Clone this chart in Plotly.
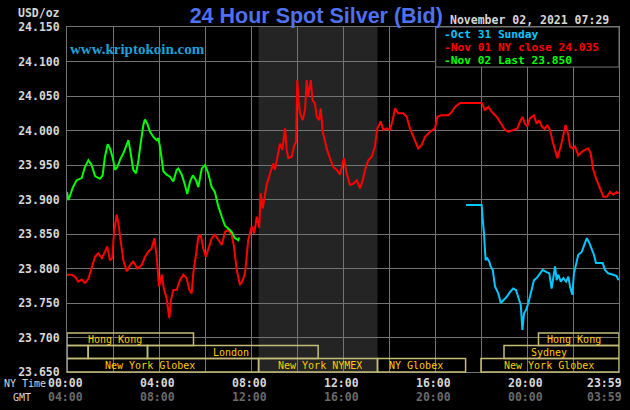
import plotly.graph_objects as go

# ---------------- data (hours after 00:00 NY time, price USD/oz) ----------------
green_hours = [0.00, 0.06, 0.26, 0.42, 0.64, 0.78, 0.93, 1.07, 1.22, 1.43,
               1.55, 1.65, 1.77, 1.87, 1.99, 2.09, 2.19, 2.30, 2.45, 2.60,
               2.67, 2.77, 2.88, 3.00, 3.10, 3.20, 3.32, 3.39, 3.49, 3.61,
               3.75, 3.90, 3.97, 4.04, 4.12, 4.19, 4.33, 4.48, 4.62, 4.77,
               4.84, 4.99, 5.13, 5.23, 5.35, 5.47, 5.61, 5.71, 5.86, 6.00,
               6.14, 6.29, 6.43, 6.58, 6.73, 6.87, 7.01, 7.16, 7.30, 7.45,
               7.48]
green_prices = [23.911, 23.899, 23.918, 23.928, 23.931, 23.947, 23.957, 23.950, 23.934, 23.930,
                23.935, 23.962, 23.980, 23.974, 23.960, 23.943, 23.947, 23.957, 23.967, 23.981,
                23.986, 23.967, 23.943, 23.938, 23.955, 23.981, 24.008, 24.016, 24.010, 23.998,
                23.991, 23.986, 23.989, 23.977, 23.955, 23.941, 23.936, 23.933, 23.926, 23.943,
                23.945, 23.936, 23.921, 23.908, 23.926, 23.935, 23.928, 23.918, 23.945, 23.950,
                23.938, 23.918, 23.911, 23.890, 23.875, 23.862, 23.858, 23.853, 23.844, 23.841,
                23.845]

red_hours = [0.00, 0.20, 0.35, 0.49, 0.64, 0.78, 0.93, 1.07, 1.22, 1.36,
             1.51, 1.65, 1.75, 1.87, 1.97, 2.04, 2.16, 2.23, 2.33, 2.45,
             2.60, 2.74, 2.88, 3.06, 3.25, 3.39, 3.53, 3.68, 3.80, 3.90,
             4.00, 4.12, 4.22, 4.33, 4.45, 4.52, 4.62, 4.77, 4.91, 5.06,
             5.20, 5.32, 5.42, 5.49, 5.61, 5.71, 5.81, 5.93, 6.04, 6.14,
             6.29, 6.43, 6.58, 6.73, 6.87, 7.01, 7.16, 7.26, 7.38, 7.52,
             7.64, 7.74, 7.88, 8.03, 8.14, 8.25, 8.36, 8.42, 8.51, 8.68,
             8.83, 8.97, 9.04, 9.14, 9.26, 9.36, 9.48, 9.55, 9.62, 9.77,
             9.87, 9.96, 10.01, 10.06, 10.13, 10.25, 10.35, 10.42, 10.49, 10.60,
             10.68, 10.78, 10.86, 10.96, 11.03, 11.12, 11.22, 11.29, 11.43, 11.58,
             11.73, 11.87, 12.04, 12.16, 12.30, 12.45, 12.60, 12.74, 12.86, 12.96,
             13.10, 13.25, 13.39, 13.49, 13.64, 13.75, 13.90, 14.04, 14.16, 14.26,
             14.40, 14.62, 14.77, 14.91, 15.06, 15.27, 15.42, 15.57, 15.78, 16.00,
             16.10, 16.29, 16.58, 16.73, 16.87, 17.09, 18.03, 18.17, 18.32, 18.47,
             18.68, 18.90, 19.04, 19.19, 19.40, 19.58, 19.70, 19.81, 19.91, 20.01,
             20.13, 20.30, 20.42, 20.53, 20.64, 20.78, 20.88, 21.00, 21.14, 21.32,
             21.47, 21.58, 21.68, 21.80, 21.87, 21.99, 22.09, 22.23, 22.38, 22.52,
             22.67, 22.77, 22.88, 23.03, 23.17, 23.32, 23.47, 23.61, 23.75, 23.90,
             23.98]
red_prices = [23.791, 23.791, 23.788, 23.781, 23.784, 23.779, 23.785, 23.800, 23.817, 23.822,
              23.815, 23.824, 23.832, 23.812, 23.815, 23.851, 23.878, 23.866, 23.841, 23.812,
              23.796, 23.805, 23.810, 23.800, 23.805, 23.817, 23.824, 23.829, 23.844, 23.817,
              23.774, 23.791, 23.769, 23.757, 23.728, 23.754, 23.769, 23.769, 23.783, 23.791,
              23.786, 23.769, 23.764, 23.793, 23.820, 23.846, 23.849, 23.829, 23.817, 23.829,
              23.844, 23.849, 23.841, 23.834, 23.853, 23.856, 23.849, 23.832, 23.798, 23.776,
              23.783, 23.793, 23.841, 23.861, 23.851, 23.875, 23.859, 23.909, 23.887, 23.921,
              23.938, 23.952, 23.943, 23.962, 23.981, 23.972, 24.003, 23.972, 23.960, 23.962,
              23.977, 23.984, 24.073, 24.047, 24.025, 24.015, 24.030, 24.073, 24.049, 24.073,
              24.044, 24.039, 24.020, 24.015, 24.032, 23.998, 23.984, 23.974, 23.960, 23.947,
              23.943, 23.936, 23.960, 23.938, 23.921, 23.923, 23.928, 23.916, 23.928, 23.943,
              23.957, 23.962, 23.977, 24.003, 24.013, 24.001, 24.003, 24.001, 24.015, 24.032,
              24.025, 24.025, 24.020, 24.003, 23.991, 23.974, 23.979, 23.991, 23.998, 24.003,
              24.020, 24.022, 24.022, 24.027, 24.034, 24.040, 24.040, 24.030, 24.034, 24.027,
              24.020, 24.008, 24.001, 23.998, 24.001, 24.003, 24.013, 24.020, 24.010, 24.006,
              24.018, 24.022, 24.010, 24.015, 24.006, 24.002, 24.008, 24.001, 23.981, 23.960,
              23.977, 23.996, 24.008, 23.993, 23.977, 23.974, 23.977, 23.964, 23.969, 23.972,
              23.974, 23.967, 23.943, 23.928, 23.916, 23.904, 23.904, 23.911, 23.907, 23.911,
              23.909]

cyan_hours = [17.35, 18.03, 18.07, 18.13, 18.20, 18.27, 18.36, 18.42, 18.51, 18.61,
              18.75, 18.86, 18.97, 19.12, 19.26, 19.40, 19.52, 19.62, 19.73, 19.80,
              19.87, 19.96, 20.06, 20.20, 20.30, 20.42, 20.57, 20.68, 20.83, 20.97,
              21.07, 21.14, 21.22, 21.29, 21.36, 21.47, 21.58, 21.70, 21.80, 21.87,
              21.97, 22.04, 22.13, 22.23, 22.38, 22.48, 22.60, 22.71, 22.81, 22.91,
              23.00, 23.14, 23.29, 23.39, 23.53, 23.75, 23.90, 23.97]
cyan_prices = [23.892, 23.892, 23.873, 23.851, 23.812, 23.815, 23.810, 23.803, 23.798, 23.774,
               23.764, 23.750, 23.754, 23.759, 23.766, 23.771, 23.769, 23.759, 23.747, 23.711,
               23.735, 23.740, 23.750, 23.769, 23.783, 23.786, 23.793, 23.798, 23.795, 23.793,
               23.771, 23.786, 23.803, 23.783, 23.791, 23.781, 23.786, 23.781, 23.788, 23.774,
               23.762, 23.793, 23.808, 23.820, 23.824, 23.834, 23.844, 23.837, 23.829, 23.820,
               23.808, 23.808, 23.808, 23.798, 23.793, 23.791, 23.789, 23.783]

y_ticks = [23.650, 23.700, 23.750, 23.800, 23.850, 23.900, 23.950, 24.000, 24.050, 24.100, 24.150]
y_labels = ["23.650", "23.700", "23.750", "23.800", "23.850", "23.900",
            "23.950", "24.000", "24.050", "24.100", "24.150"]

time_ticks = [0, 4, 8, 12, 16, 20, 24]
ny_labels = ["00:00", "04:00", "08:00", "12:00", "16:00", "20:00", "23:59"]
gmt_labels = ["04:00", "08:00", "12:00", "16:00", "20:00", "00:00", "03:59"]

legend_labels = ["-Oct 31 Sunday", "-Nov 01 NY close 24.035", "-Nov 02 Last 23.850"]

sess_names = ["Hong Kong", "Hong Kong", "", "", "London", "Sydney",
              "New York Globex", "New York NYMEX", "NY Globex", "New York Globex"]
sess_rows = [0, 0, 1, 1, 1, 1, 2, 2, 2, 2]
sess_start = [0.0, 20.5, 0.0, 0.92, 3.5, 19.0, 0.0, 8.33, 13.5, 18.0]
sess_end = [5.5, 24.0, 0.92, 3.5, 10.92, 24.0, 8.33, 13.5, 17.33, 24.0]
sess_label_at = [2.09, 22.04, None, None, 7.13, 20.96, 3.61, 11.0, 15.17, 20.96]

nymex_open, nymex_close = 8.33, 13.5

# ---------------- style ----------------
CYAN, RED, GREEN = "#00c8ff", "#ff0000", "#00ff00"
GRID = "#747474"
TXT = "#d6d6d6"
GMT_C = "#6a6a6a"
SESS_LINE = "#c4bc78"
SESS_TXT = "#ffcc00"
MONO = "DejaVu Sans Mono"

fig = go.Figure()
for hrs, prs, col in [(cyan_hours, cyan_prices, CYAN),
                      (red_hours, red_prices, RED),
                      (green_hours, green_prices, GREEN)]:
    fig.add_trace(go.Scatter(x=hrs, y=prs, mode="lines",
                             line=dict(color=col, width=2),
                             hoverinfo="skip", showlegend=False))

shapes = []
# NYMEX shaded session
shapes.append(dict(type="rect", xref="x", yref="paper", x0=nymex_open, x1=nymex_close,
                   y0=0, y1=1, fillcolor="#242424", line=dict(width=0), layer="below"))
# session boxes
row_top = [0.113, 0.0768, 0.0391]
row_bot = [0.0768, 0.0391, 0.0]
annotations = []
for name, row, s, e, at in zip(sess_names, sess_rows, sess_start, sess_end, sess_label_at):
    shapes.append(dict(type="rect", xref="x", yref="paper", x0=s, x1=e,
                       y0=row_bot[row], y1=row_top[row],
                       line=dict(color=SESS_LINE, width=1.5), fillcolor="rgba(0,0,0,0)",
                       layer="above"))
    if name:
        annotations.append(dict(x=at, y=(row_top[row] + row_bot[row]) / 2, xref="x", yref="paper",
                                text=name, showarrow=False, xanchor="center", yanchor="middle",
                                height=11,
                                font=dict(family=MONO, size=10, color=SESS_TXT)))
# legend box
shapes.append(dict(type="rect", xref="paper", yref="paper", x0=0.668, x1=1.0, y0=0.884, y1=1.0,
                   fillcolor="#000000", line=dict(color=GRID, width=1), layer="above"))

for lbl, col, yy in zip(legend_labels, [CYAN, RED, GREEN], [0.9797, 0.942, 0.9043]):
    annotations.append(dict(x=0.679, y=yy, xref="paper", yref="paper", text=lbl,
                            showarrow=False, xanchor="left", yanchor="middle", height=11,
                            font=dict(family=MONO, size=11.2, color=col, weight="bold")))

# time labels
for i, (t, ny, gmt) in enumerate(zip(time_ticks, ny_labels, gmt_labels)):
    last = i == len(time_ticks) - 1
    for txt, col, ys in [(ny, TXT, -11), (gmt, GMT_C, -25)]:
        annotations.append(dict(x=t, y=0, xref="x", yref="paper", text=txt, showarrow=False,
                                xanchor="right" if last else "center", yanchor="middle",
                                xshift=5 if last else -2, yshift=ys, height=12,
                                font=dict(family=MONO, size=11.5, color=col, weight="bold")))
annotations.append(dict(x=0.003, y=0, xref="paper", yref="paper", text="NY Time", showarrow=False,
                        xanchor="left", yanchor="middle", yshift=-11, xshift=-67, height=12,
                        font=dict(family=MONO, size=10, color=TXT)))
annotations.append(dict(x=0.003, y=0, xref="paper", yref="paper", text="GMT", showarrow=False,
                        xanchor="left", yanchor="middle", yshift=-25, xshift=-58, height=12,
                        font=dict(family=MONO, size=10, color=TXT)))
annotations.append(dict(x=0, y=1, xref="paper", yref="paper", text="USD/oz", showarrow=False,
                        xanchor="right", yanchor="middle", yshift=14, xshift=-5,
                        font=dict(family=MONO, size=11.5, color=TXT, weight="bold")))
annotations.append(dict(x=0.69, y=1, xref="paper", yref="paper", text="November 02, 2021 07:29",
                        showarrow=False, xanchor="left", yanchor="middle", yshift=7, height=12,
                        font=dict(family=MONO, size=11.5, color=TXT, weight="bold")))
annotations.append(dict(x=0.002, y=0.936, xref="paper", yref="paper", text="www.kriptokoin.com",
                        showarrow=False, xanchor="left", yanchor="middle",
                        font=dict(family="Liberation Serif", size=15, color="#1ea0d8",
                                  weight="bold")))

fig.update_layout(
    width=630, height=410, autosize=False,
    margin=dict(l=67, r=11, t=27, b=38),
    paper_bgcolor="#000000", plot_bgcolor="#000000",
    title=dict(text="<b>24 Hour Spot Silver (Bid)</b>", x=0.502, xanchor="center",
               y=1 - 15 / 410, yanchor="middle",
               font=dict(family="Liberation Sans", size=21.5, color="#4f70f2")),
    xaxis=dict(range=[0, 24], tickvals=[0, 2, 4, 6, 8, 10, 12, 14, 16, 18, 20, 22, 24],
               showticklabels=False, showgrid=True, gridcolor=GRID, gridwidth=1,
               zeroline=False, showline=True, linecolor=GRID, linewidth=1, mirror=True,
               ticks=""),
    yaxis=dict(range=[23.65, 24.15], tickvals=y_ticks, ticktext=y_labels,
               showgrid=True, gridcolor=GRID, gridwidth=1, zeroline=False,
               showline=True, linecolor=GRID, linewidth=1, mirror=True, ticks="",
               ticklabelstandoff=4,
               tickfont=dict(family=MONO, size=11.5, color=TXT, weight="bold")),
    shapes=shapes, annotations=annotations,
)

fig.write_html("out.html")
